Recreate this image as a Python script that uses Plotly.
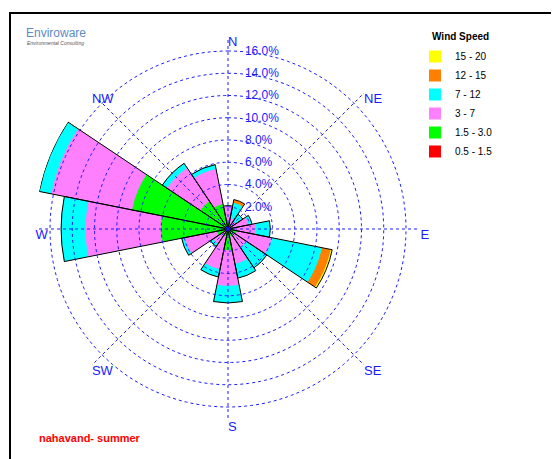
import numpy as np
import plotly.graph_objects as go

directions = ["N", "NNE", "NE", "ENE", "E", "ESE", "SE", "SSE",
              "S", "SSW", "SW", "WSW", "W", "WNW", "NW", "NNW"]
angles = [i * 22.5 for i in range(16)]

# frequency (%) of each speed class per direction
red_05_15   = [0.2, 0.1, 0.1, 0.1, 0.1, 0.1, 0.1, 0.1, 0.1, 0.1, 0.1, 0.1, 0.2, 0.2, 0.1, 0.1]
green_15_30 = [0.5, 0.3, 0.2, 0.3, 0.4, 0.7, 0.5, 0.6, 1.8, 0.6, 0.3, 0.9, 5.8, 8.6, 2.9, 2.2]
pink_3_7    = [1.4, 0.6, 0.5, 1.5, 2.0, 3.2, 1.4, 2.5, 3.2, 3.0, 1.2, 2.95, 6.8, 7.4, 3.6, 3.2]
cyan_7_12   = [0.0, 1.4, 0.8, 0.3, 1.3, 4.6, 2.2, 1.3, 1.55, 0.7, 0.3, 0.3, 2.2, 1.1, 0.5, 0.4]
orange_12_15 = [0.0, 0.3, 0.0, 0.0, 0.0, 0.8, 0.0, 0.0, 0.0, 0.0, 0.0, 0.0, 0.0, 0.0, 0.0, 0.0]
yellow_15_20 = [0.0, 0.0, 0.0, 0.0, 0.0, 0.15, 0.0, 0.0, 0.0, 0.0, 0.0, 0.0, 0.0, 0.0, 0.0, 0.0]

classes = ["0.5 - 1.5", "1.5 - 3.0", "3 - 7", "7 - 12", "12 - 15", "15 - 20"]
colors = ["#ff0000", "#00ff00", "#ff80ff", "#00ffff", "#ff8000", "#ffff00"]
series = [red_05_15, green_15_30, pink_3_7, cyan_7_12, orange_12_15, yellow_15_20]

radial_ticks = [2, 4, 6, 8, 10, 12, 14, 16]
compass_vals = [0, 45, 90, 135, 180, 225, 270, 315]
compass_text = ["N", "NE", "E", "SE", "S", "SW", "W", "NW"]
r_max = 17.3

cum = np.cumsum(np.array(series), axis=0)

W, H = 559, 459
OFF = 8  # page body margin


def px(x):
    return (x - OFF) / W


def py(y):
    return 1 - (y - OFF) / H


blue = "#1a1aff"
fig = go.Figure()
for k in range(len(classes) - 1, -1, -1):
    fig.add_trace(go.Barpolar(
        r=cum[k], theta=angles, width=[22.5] * 16,
        name=classes[k], marker=dict(color=colors[k], line=dict(width=0)),
    ))
# wedge outlines
fig.add_trace(go.Barpolar(
    r=cum[-1], theta=angles, width=[22.5] * 16, showlegend=False, hoverinfo="skip",
    marker=dict(color="rgba(0,0,0,0)", line=dict(color="black", width=1)),
))
# dashed grid: rings at the radial ticks and compass spokes
ring_theta = list(np.linspace(0, 360, 241))
grid_r, grid_t = [], []
for v in radial_ticks:
    grid_r += [v] * len(ring_theta) + [None]
    grid_t += ring_theta + [None]
for a in compass_vals:
    grid_r += [0, r_max, None]
    grid_t += [a, a, None]
fig.add_trace(go.Scatterpolar(
    r=grid_r, theta=grid_t, mode="lines", showlegend=False, hoverinfo="skip",
    line=dict(color=blue, width=1, dash="3px,3px"),
))
# compass labels
fig.add_trace(go.Scatterpolar(
    r=[r_max] * len(compass_vals), theta=compass_vals, text=compass_text,
    mode="text", textposition="bottom right", cliponaxis=False,
    textfont=dict(size=13, color=blue), showlegend=False, hoverinfo="skip",
))

R = r_max * 11.125
cx, cy = 228, 229
fig.update_layout(
    width=W, height=H,
    margin=dict(l=0, r=0, t=0, b=0),
    paper_bgcolor="white",
    font=dict(family="Liberation Sans, Arial, sans-serif"),
    polar=dict(
        domain=dict(x=[px(cx - R), px(cx + R)], y=[py(cy + R), py(cy - R)]),
        barmode="overlay",
        bgcolor="white",
        radialaxis=dict(
            range=[0, r_max], angle=90, tickangle=90,
            tickvals=radial_ticks, ticktext=[f"{v:.1f}%" for v in radial_ticks],
            tickfont=dict(size=12, color=blue),
            showline=False, ticks="outside", ticklen=14, tickcolor="rgba(0,0,0,0)",
            showgrid=False, layer="above traces", side="clockwise",
        ),
        angularaxis=dict(
            direction="clockwise", rotation=90,
            tickvals=compass_vals, showticklabels=False,
            showline=False, ticks="", showgrid=False,
        ),
    ),
    legend=dict(
        x=px(415), y=py(42), xanchor="left", yanchor="top",
        font=dict(size=10, color="black"),
        bgcolor="rgba(0,0,0,0)",
    ),
    shapes=[dict(type="rect", xref="paper", yref="paper",
                 x0=px(10), x1=1.05, y0=-0.05, y1=py(13),
                 line=dict(color="black", width=2))],
    annotations=[
        dict(text="<b>Wind Speed</b>", x=px(430), y=py(37), xref="paper", yref="paper",
             xanchor="left", yanchor="middle", showarrow=False,
             font=dict(size=10, color="black")),
        dict(text="<b>nahavand- summer</b>", x=px(37), y=py(438), xref="paper", yref="paper",
             xanchor="left", yanchor="middle", showarrow=False,
             font=dict(size=11, color="#ff0000")),
        dict(text="Enviroware", x=px(24), y=py(33), xref="paper", yref="paper",
             xanchor="left", yanchor="middle", showarrow=False,
             font=dict(size=12, color="#5b8bc4")),
        dict(text="<i>Environmental Consulting</i>", x=px(25), y=py(43), xref="paper", yref="paper",
             xanchor="left", yanchor="middle", showarrow=False,
             font=dict(size=5, color="#555555")),
    ],
)
fig.write_html("out.html")
